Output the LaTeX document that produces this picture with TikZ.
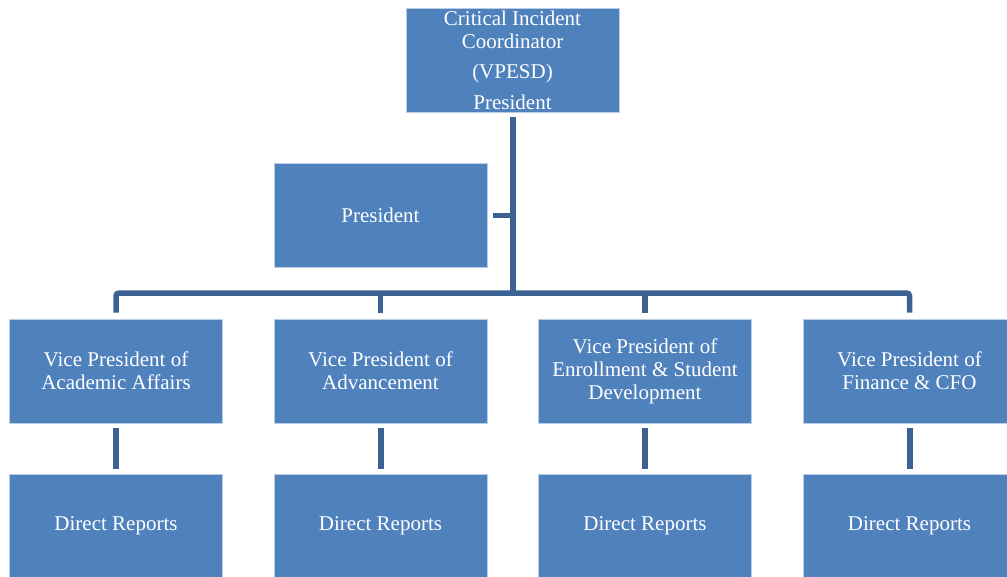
\documentclass[tikz,border=0pt]{standalone}
\usepackage{fontspec}
\setmainfont{Liberation Serif}
\definecolor{boxblue}{RGB}{79,129,189}
\definecolor{boxedge}{RGB}{185,205,229}
\definecolor{linecol}{RGB}{60,98,148}
\tikzset{
  orgbox/.style={rectangle, fill=boxblue, draw=boxedge, line width=0.8pt,
    minimum width=213pt, minimum height=104pt, inner sep=0pt,
    text=white, align=center, font=\fontsize{21}{23}\selectfont},
  conn/.style={draw=linecol, line width=5.5pt},
}
\begin{document}
\begin{tikzpicture}[x=1pt,y=-1pt]
\useasboundingbox (0,0) rectangle (1007,576);
\begin{scope}
\clip (0,0) rectangle (1007,576);
\node[orgbox] (top) at (512.5,60) {Critical Incident\\Coordinator\\[7pt](VPESD)\\[8pt]President};
\node[orgbox] (pres) at (380.5,215) {President};
\node[orgbox] (vp1) at (116,371) {Vice President of\\Academic Affairs};
\node[orgbox] (vp2) at (380.5,371) {Vice President of\\Advancement};
\node[orgbox] (vp3) at (645,371) {Vice President of\\Enrollment \& Student\\Development};
\node[orgbox] (vp4) at (909.5,371) {Vice President of\\Finance \& CFO};
\node[orgbox] (dr1) at (116,526) {Direct Reports};
\node[orgbox] (dr2) at (380.5,526) {Direct Reports};
\node[orgbox] (dr3) at (645,526) {Direct Reports};
\node[orgbox] (dr4) at (909.5,526) {Direct Reports};
\coordinate (bar) at (513,293);
% trunk
\draw[conn, line width=6pt] ([yshift=-5pt]top.south) -- (top.south |- bar);
% stub to President
\draw[conn, line width=5pt] ([xshift=6pt]pres.east) -- (pres.east -| top.south);
% horizontal bar with drops
\draw[conn, rounded corners=3pt] ([yshift=6pt]vp1.north) |- (bar) -| ([yshift=6pt]vp4.north);
\draw[conn] ([yshift=6pt]vp2.north) -- (vp2.north |- bar);
\draw[conn] ([yshift=6pt]vp3.north) -- (vp3.north |- bar);
% VP to direct reports
\foreach \i in {1,2,3,4}{
  \draw[conn, line width=6pt] ([yshift=-5pt]vp\i.south) -- ([yshift=5pt]dr\i.north);
}
\end{scope}
\end{tikzpicture}
\end{document}
